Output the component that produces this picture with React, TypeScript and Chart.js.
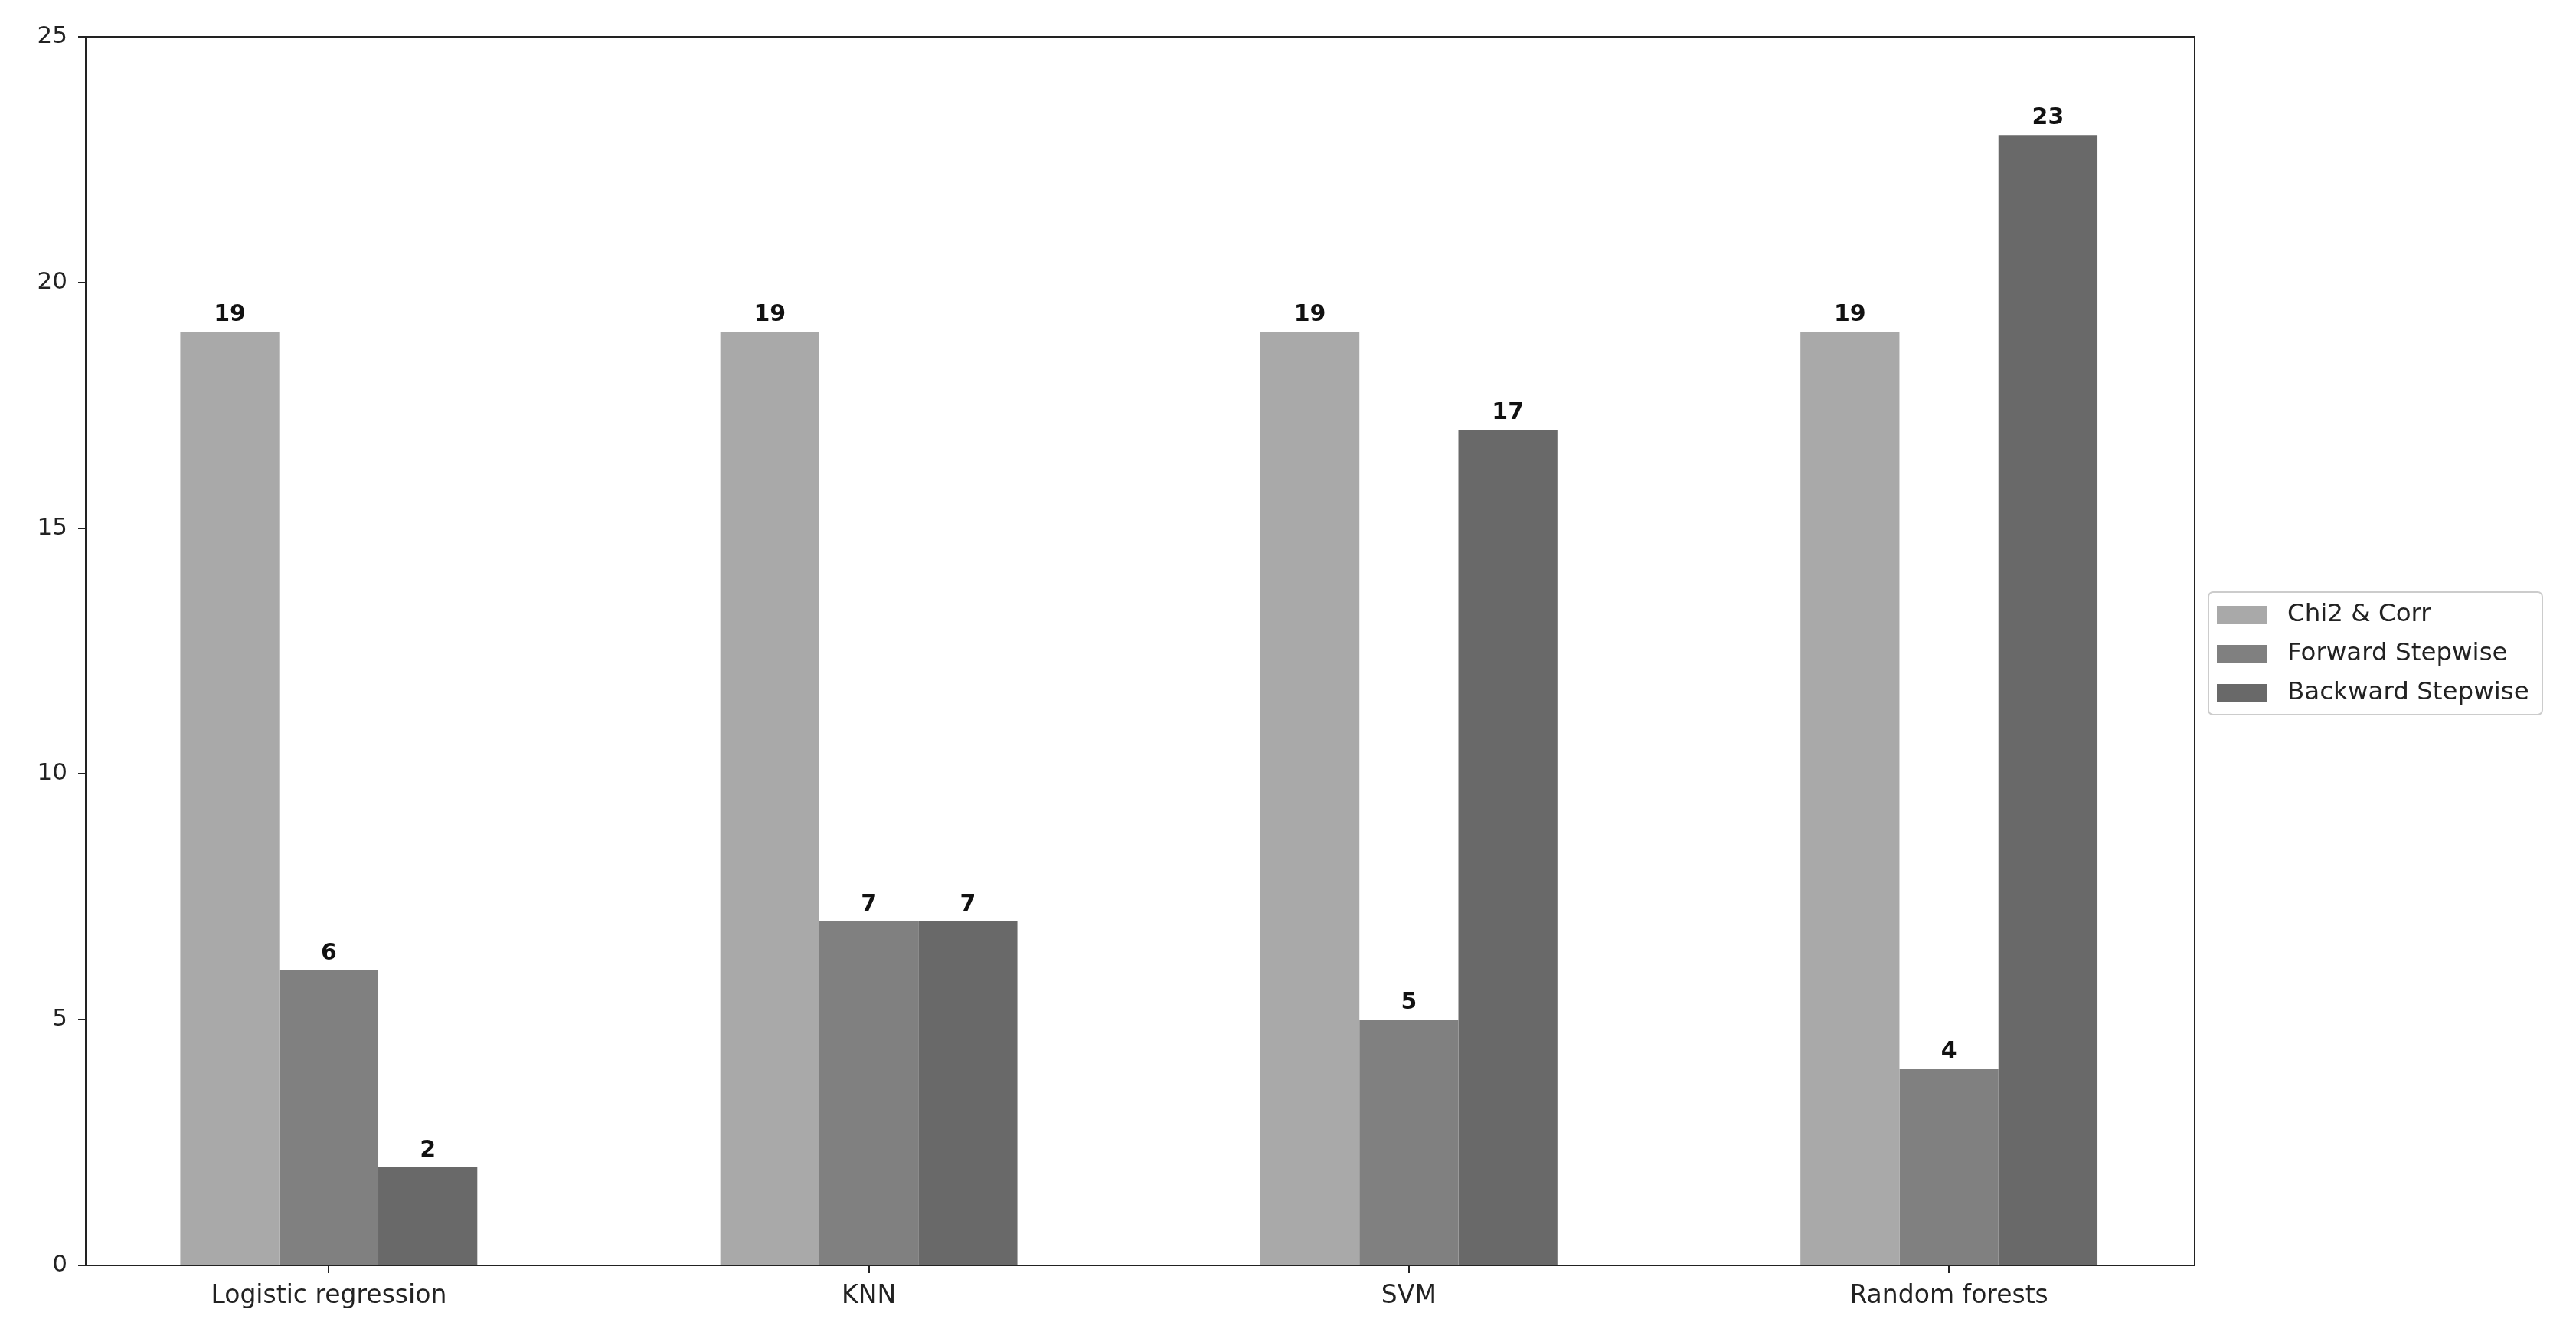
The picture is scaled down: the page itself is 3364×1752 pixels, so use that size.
import React, { useEffect, useRef } from "react";
import { Chart, registerables } from "chart.js";

Chart.register(...registerables);

const CATEGORIES = ["Logistic regression", "KNN", "SVM", "Random forests"];
const SERIES_LABELS = ["Chi2 & Corr", "Forward Stepwise", "Backward Stepwise"];
const CHI2_CORR = [19, 19, 19, 19];
const FORWARD_STEPWISE = [6, 7, 5, 4];
const BACKWARD_STEPWISE = [2, 7, 17, 23];
const SERIES_COLORS = ["#a9a9a9", "#808080", "#696969"];
const Y_TICKS = [0, 5, 10, 15, 20, 25];

const FONT = "'DejaVu Sans', sans-serif";

const frameAndLabels = {
  id: "frameAndLabels",
  afterDatasetsDraw(chart: any) {
    const ctx = chart.ctx;
    ctx.save();
    ctx.font = `bold 30px ${FONT}`;
    ctx.fillStyle = "#111";
    ctx.textAlign = "center";
    ctx.textBaseline = "alphabetic";
    chart.data.datasets.forEach((ds: any, di: number) => {
      const meta = chart.getDatasetMeta(di);
      meta.data.forEach((el: any, i: number) => {
        const v = ds.data[i].y;
        ctx.fillText(String(v), el.x, el.y - 14);
      });
    });
    ctx.restore();
  },
  afterDraw(chart: any) {
    const ctx = chart.ctx;
    const a = chart.chartArea;
    ctx.save();
    ctx.strokeStyle = "#222";
    ctx.lineWidth = 2;
    ctx.strokeRect(a.left, a.top, a.right - a.left, a.bottom - a.top);

    // legend
    const bx = 2884, by = 773, bw = 436, bh = 160;
    ctx.fillStyle = "rgba(255,255,255,0.8)";
    ctx.strokeStyle = "#cccccc";
    ctx.lineWidth = 2;
    ctx.beginPath();
    (ctx as any).roundRect(bx, by, bw, bh, 6);
    ctx.fill();
    ctx.stroke();
    ctx.font = `32.5px ${FONT}`;
    ctx.textAlign = "left";
    ctx.textBaseline = "middle";
    chart.data.datasets.forEach((ds: any, i: number) => {
      const cy = 802 + i * 51;
      ctx.fillStyle = ds.backgroundColor;
      ctx.fillRect(2895, cy - 11, 65, 23);
      ctx.fillStyle = "#222";
      ctx.fillText(ds.label, 2987, cy + 1);
    });
    ctx.restore();
  },
};

export default function App() {
  const ref = useRef<HTMLCanvasElement | null>(null);

  useEffect(() => {
    if (!ref.current) return;
    const seriesValues = [CHI2_CORR, FORWARD_STEPWISE, BACKWARD_STEPWISE];
    const chart = new Chart(ref.current, {
      type: "bar",
      data: {
        datasets: seriesValues.map((vals, si) => ({
          label: SERIES_LABELS[si],
          data: vals.map((v, i) => ({ x: i, y: v })),
          backgroundColor: SERIES_COLORS[si],
          borderWidth: 0,
          categoryPercentage: 0.55,
          barPercentage: 1.0,
        })),
      },
      options: {
        animation: false,
        responsive: true,
        maintainAspectRatio: false,
        layout: { padding: { top: 48, right: 498, left: 0, bottom: 0 } },
        plugins: {
          legend: { display: false },
          tooltip: { enabled: false },
        },
        scales: {
          x: {
            type: "linear",
            min: -0.45,
            max: 3.455,
            offset: false,
            afterBuildTicks: (axis: any) => {
              axis.ticks = CATEGORIES.map((_, i) => ({ value: i }));
            },
            afterFit: (scale: any) => {
              scale.height = 100;
            },
            ticks: {
              callback: (v: any) => CATEGORIES[Math.round(Number(v))] ?? "",
              font: { family: FONT, size: 33 },
              color: "#222",
              padding: 11,
              maxRotation: 0,
              autoSkip: false,
            },
            grid: {
              offset: false,
              drawOnChartArea: false,
              drawTicks: true,
              tickLength: 10,
              color: "#222",
              lineWidth: 2,
            },
            border: { display: false },
          },
          y: {
            type: "linear",
            min: 0,
            max: 25,
            afterBuildTicks: (axis: any) => {
              axis.ticks = Y_TICKS.map((v) => ({ value: v }));
            },
            afterFit: (scale: any) => {
              scale.width = 112;
            },
            ticks: {
              font: { family: FONT, size: 31 },
              color: "#222",
              padding: 14,
            },
            grid: {
              offset: false,
              drawOnChartArea: false,
              drawTicks: true,
              tickLength: 10,
              color: "#222",
              lineWidth: 2,
            },
            border: { display: false },
          },
        },
      } as any,
      plugins: [frameAndLabels],
    });
    return () => chart.destroy();
  }, []);

  return (
    <div
      style={{
        position: "fixed",
        left: 0,
        top: 0,
        width: 3364,
        height: 1752,
        background: "#fff",
      }}
    >
      <canvas ref={ref} />
    </div>
  );
}
